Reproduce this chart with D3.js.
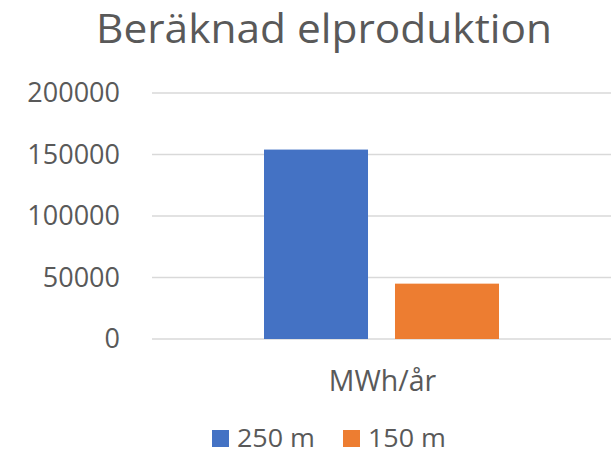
<!DOCTYPE html>
<html>
<head>
<meta charset="utf-8">
<script src="https://cdn.jsdelivr.net/npm/d3@7"></script>
<style>
  body { margin: 0; background: #fff; }
  text { font-family: "Open Sans", sans-serif; fill: #595959; }
</style>
</head>
<body>
<svg id="chart" width="615" height="455"></svg>
<script>
// data
const categories = ["MWh/år"];
const seriesNames = ["250 m", "150 m"];
const seriesValues = [154000, 45000];
const seriesColors = ["#4472C4", "#ED7D31"];
const yTicks = [0, 50000, 100000, 150000, 200000];

const svg = d3.select("#chart");
const margin = { left: 152, right: 4, top: 93, bottom: 116 }; // plot 152..611, 93..339
const W = 615, H = 455;

const y = d3.scaleLinear().domain([0, 200000]).range([H - margin.bottom, margin.top]);
const x0 = d3.scaleBand().domain(categories).range([margin.left, W - margin.right]).padding(0.3228);
const x1 = d3.scaleBand().domain(seriesNames).range([0, x0.bandwidth()]).paddingInner(0.206).paddingOuter(0);

// title (stretched a bit to the reference width)
svg.append("text")
  .attr("x", 324).attr("y", 43)
  .attr("text-anchor", "middle")
  .attr("font-size", 40)
  .attr("textLength", 456)
  .attr("lengthAdjust", "spacingAndGlyphs")
  .text("Beräknad elproduktion");

// gridlines + y labels
const yAxis = d3.axisLeft(y).tickValues(yTicks).tickSize(0).tickPadding(32).tickFormat(d3.format("d"));
const gy = svg.append("g").attr("transform", `translate(${margin.left},0)`).call(yAxis);
gy.select(".domain").remove();
gy.selectAll("text").attr("font-size", 27).attr("fill", "#595959").attr("font-family", "Open Sans");

svg.append("g").selectAll("line")
  .data(yTicks)
  .join("line")
    .attr("x1", margin.left).attr("x2", W - margin.right)
    .attr("y1", d => y(d)).attr("y2", d => y(d))
    .attr("stroke", "#d9d9d9").attr("stroke-width", 1.3);

// bars
const data = seriesNames.map((s, i) => ({ series: s, value: seriesValues[i], color: seriesColors[i] }));
svg.append("g")
  .attr("transform", `translate(${x0(categories[0])},0)`)
  .selectAll("rect")
  .data(data)
  .join("rect")
    .attr("x", d => x1(d.series))
    .attr("width", x1.bandwidth())
    .attr("y", d => y(d.value))
    .attr("height", d => y(0) - y(d.value))
    .attr("fill", d => d.color);

// category label
svg.append("text")
  .attr("x", x0(categories[0]) + x0.bandwidth() / 2 + 1)
  .attr("y", 391)
  .attr("text-anchor", "middle")
  .attr("font-size", 28.5)
  .text(categories[0]);

// legend
const legendX = [212, 343];
const lg = svg.append("g").selectAll("g")
  .data(data)
  .join("g")
    .attr("transform", (d, i) => `translate(${legendX[i]},430)`);
lg.append("rect").attr("width", 17).attr("height", 17).attr("fill", d => d.color);
lg.append("text").attr("x", 25).attr("y", 17)
  .attr("font-size", 26)
  .attr("textLength", 78)
  .attr("lengthAdjust", "spacingAndGlyphs")
  .text(d => d.series);
</script>
</body>
</html>
